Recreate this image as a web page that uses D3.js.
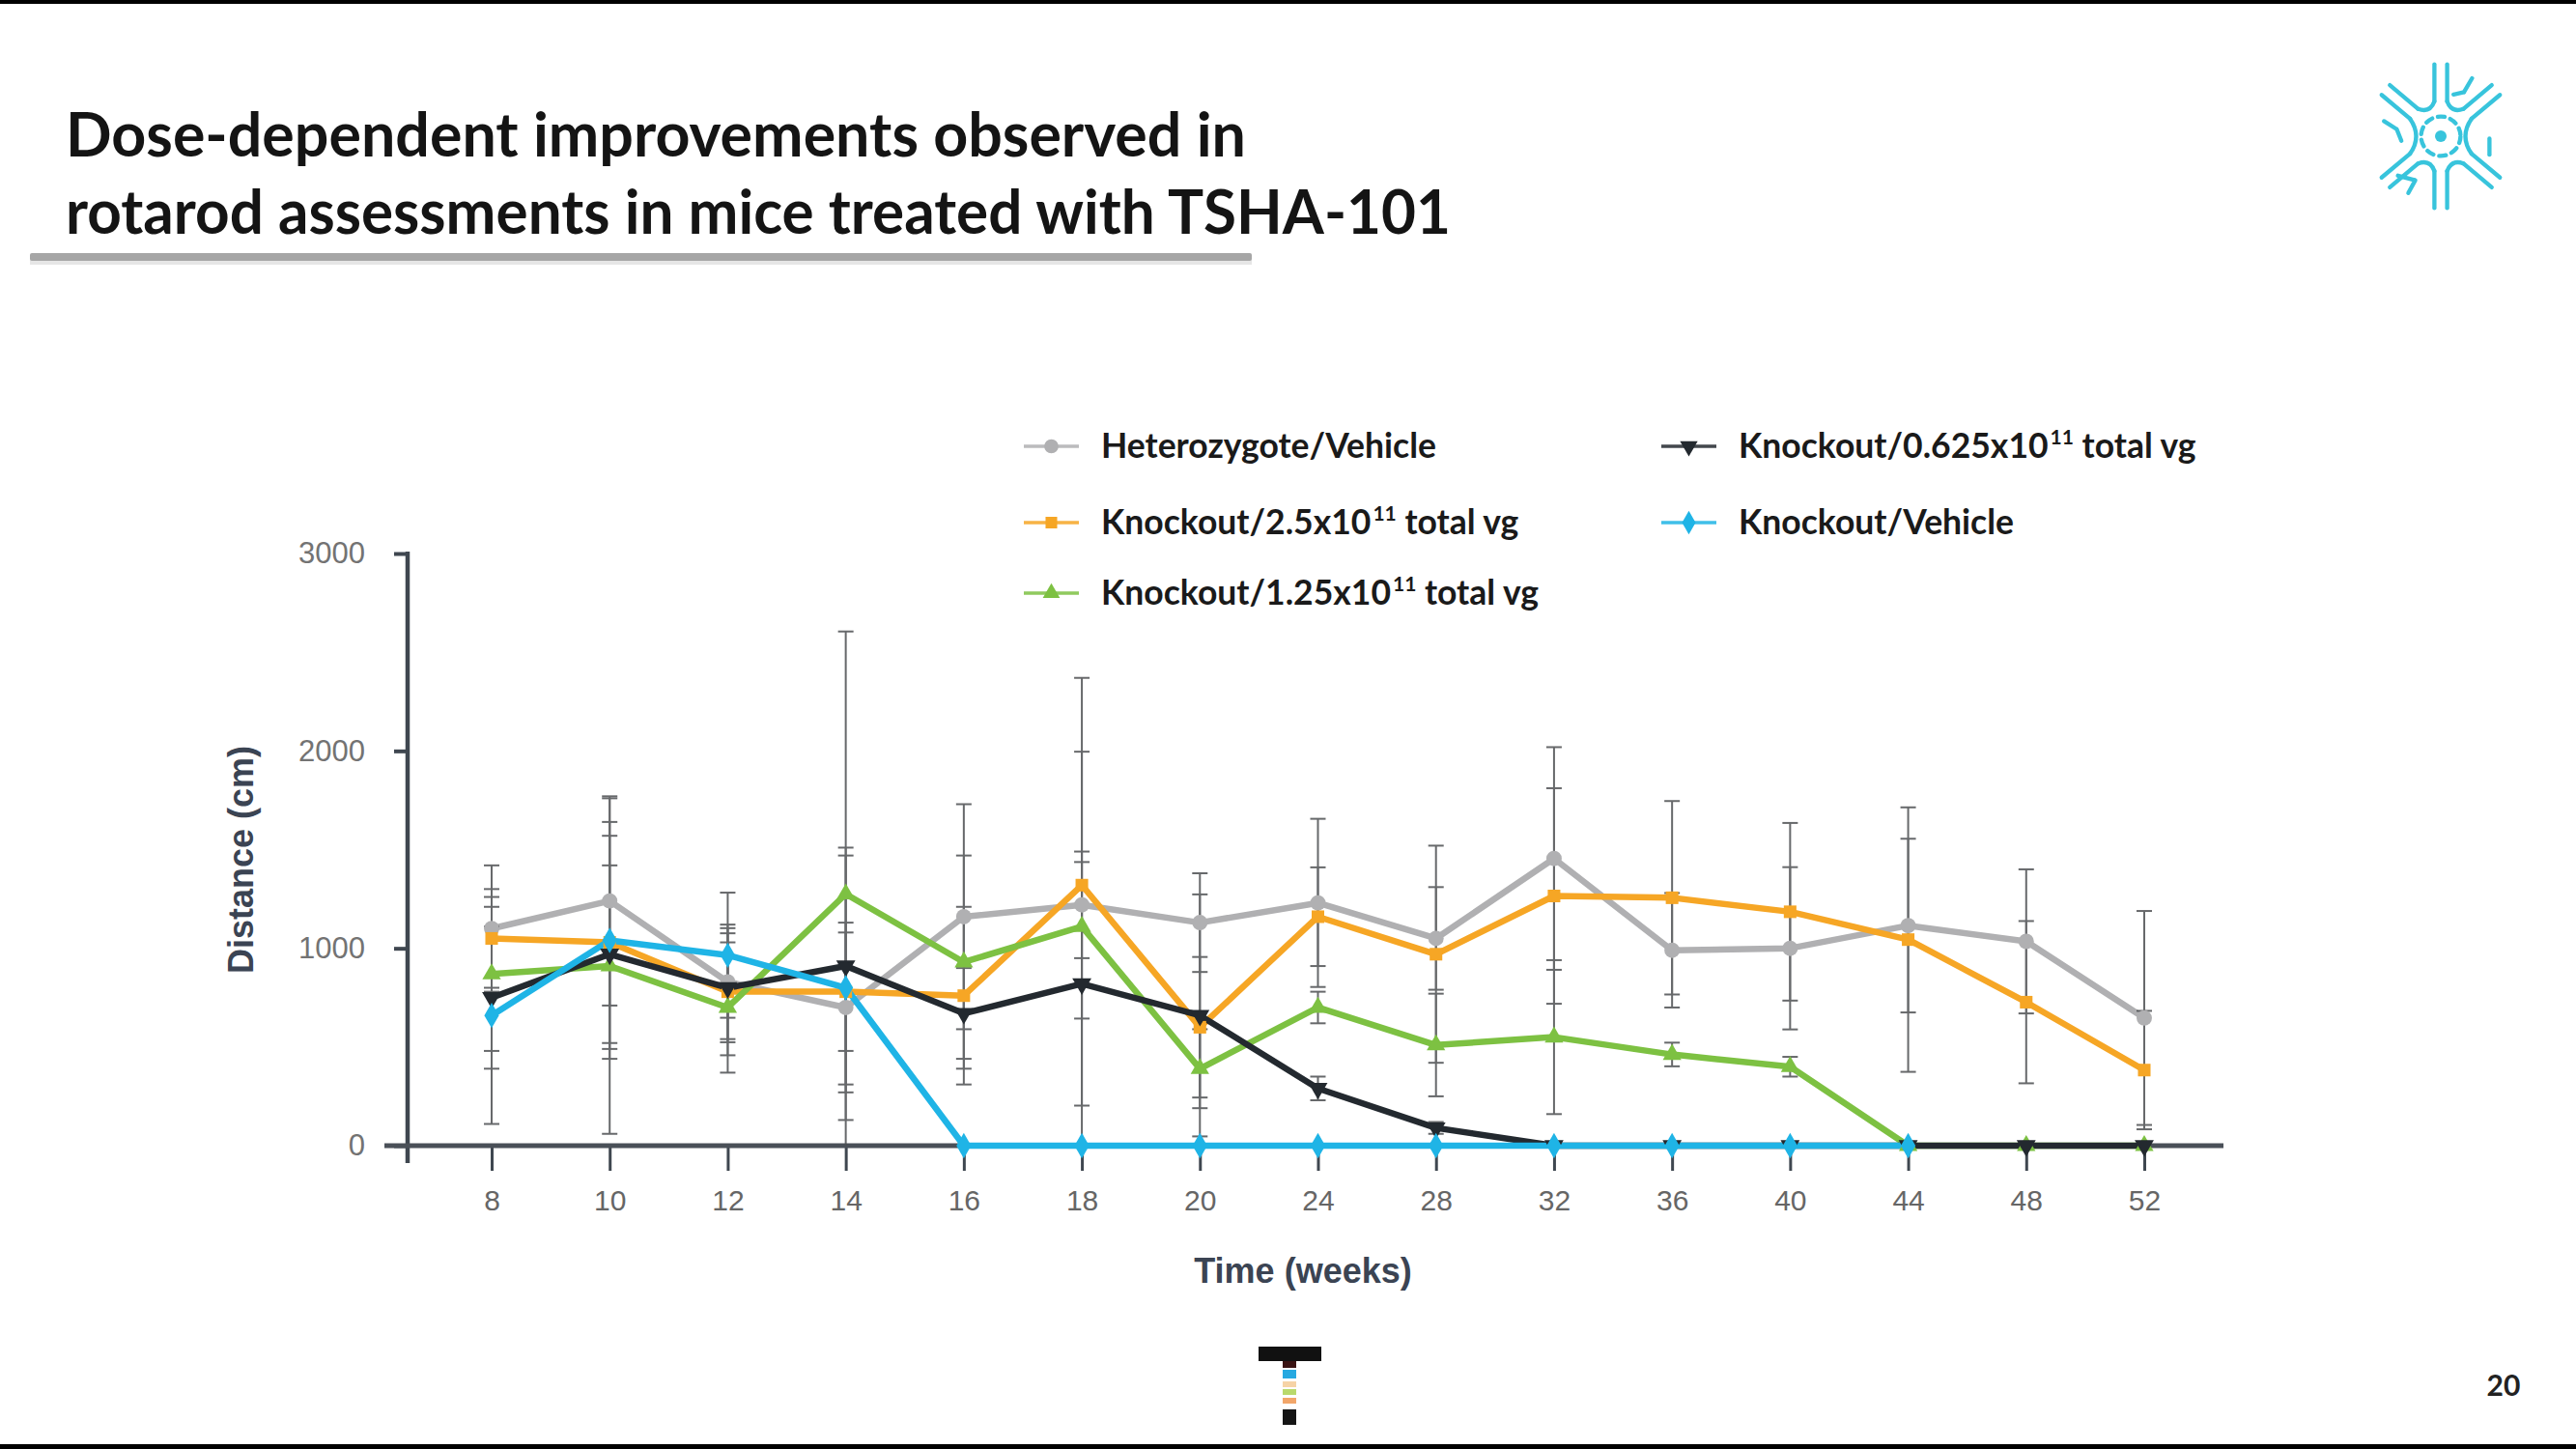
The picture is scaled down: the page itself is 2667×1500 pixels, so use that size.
<!DOCTYPE html>
<html>
<head>
<meta charset="utf-8">
<script src="https://cdn.jsdelivr.net/npm/d3@7"></script>
<style>
  html, body { margin: 0; padding: 0; background: #ffffff; }
  svg { display: block; }
</style>
</head>
<body>
<svg id="chart" width="2667" height="1500"></svg>
<script>
// ---------------- DATA ----------------
const titleLines = [
  "Dose-dependent improvements observed in",
  "rotarod assessments in mice treated with TSHA-101"
];
const weeks = [8, 10, 12, 14, 16, 18, 20, 24, 28, 32, 36, 40, 44, 48, 52];
const yTicks = [0, 1000, 2000, 3000];
const yAxisTitle = "Distance (cm)";
const xAxisTitle = "Time (weeks)";
const pageNumber = "20";

// mean distance (cm) per week
const hetVehicle      = [1100, 1240, 830, 700, 1160, 1220, 1130, 1230, 1050, 1455, 990, 1000, 1115, 1035, 647];
const ko25            = [1050, 1030, 780, 780, 760, 1320, 600, 1160, 970, 1265, 1256, 1185, 1044, 727, 383];
const ko125           = [870, 910, 700, 1275, 930, 1110, 390, 700, 510, 550, 462, 400, 0, 0, 0];
const ko0625          = [750, 970, 800, 910, 670, 820, 660, 290, 90, 0, 0, 0, 0, 0, 0];
const koVehicle       = [660, 1040, 965, 800, 0, 0, 0, 0, 0, 0, 0, 0, 0, null, null];

// error (half-length of error bar) per week
const hetVehicleErr   = [320, 530, 290, 430, 570, 270, 250, 426, 260, 564, 290, 411, 440, 365, 542];
const ko25Err         = [250, 540, 322, 300, 450, 676, 356, 250, 550, 546, 490, 450, 670, 411, 300];
const ko125Err        = [390, 850, 330, 1330, 540, 1260, 200, 80, 260, 390, 60, 50, 0, 0, 0];
const ko0625Err       = [360, 450, 276, 600, 230, 617, 613, 60, 30, 0, 0, 0, 0, 0, 0];
const koVehicleErr    = [550, 600, 317, 670, 0, 0, 0, 0, 0, 0, 0, 0, 0, null, null];

// legend labels: [main, superscript, suffix]
const legendLabels = [
  ["Heterozygote/Vehicle", "", ""],
  ["Knockout/2.5x10", "11", " total vg"],
  ["Knockout/1.25x10", "11", " total vg"],
  ["Knockout/0.625x10", "11", " total vg"],
  ["Knockout/Vehicle", "", ""]
];

// ---------------- STYLE ----------------
const series = [
  { values: hetVehicle, err: hetVehicleErr, color: "#b0b0b2", symbol: d3.symbolCircle,   rot: 0,   size: 200 },
  { values: ko25,       err: ko25Err,       color: "#f6a625", symbol: d3.symbolSquare,   rot: 0,   size: 170 },
  { values: ko125,      err: ko125Err,      color: "#7dc142", symbol: d3.symbolTriangle, rot: 0,   size: 160 },
  { values: ko0625,     err: ko0625Err,     color: "#23292f", symbol: d3.symbolTriangle, rot: 180, size: 170 },
  { values: koVehicle,  err: koVehicleErr,  color: "#1fb4e6", symbol: d3.symbolDiamond,  rot: 0,   size: 200 }
];
const legendOrder = [0, 1, 2, 3, 4];
const legendCols = [1060, 1720];
const legendRows = [462, 541, 614];
const legendPos = [[0, 0], [0, 1], [0, 2], [1, 0], [1, 1]];

const sansFont = "Lato, 'Open Sans', 'Noto Sans', sans-serif";
const axisFont = "'Liberation Sans', Arial, Helvetica, sans-serif";
const axisColor = "#3f4750";

const svg = d3.select("#chart");
svg.append("rect").attr("width", 2667).attr("height", 1500).attr("fill", "#ffffff");
svg.append("rect").attr("x", 0).attr("y", 0).attr("width", 2667).attr("height", 4).attr("fill", "#000");
svg.append("rect").attr("x", 0).attr("y", 1495).attr("width", 2667).attr("height", 5).attr("fill", "#000");

// ---------------- TITLE ----------------
const titleLens = [1222, 1434];
titleLines.forEach((t, i) => {
  svg.append("text")
    .attr("x", 68).attr("y", 162 + i * 80)
    .attr("font-family", sansFont).attr("font-weight", 700)
    .attr("font-size", 64).attr("fill", "#141414")
    .attr("textLength", titleLens[i]).attr("lengthAdjust", "spacingAndGlyphs")
    .text(t);
});
svg.append("rect").attr("x", 31).attr("y", 265).attr("width", 1265).attr("height", 9)
  .attr("fill", "#e6e6e6");
svg.append("rect").attr("x", 31).attr("y", 262).attr("width", 1265).attr("height", 8)
  .attr("fill", "#a6a6a6").attr("rx", 2);

// ---------------- SCALES ----------------
const x = d3.scalePoint().domain(weeks).range([509, 2220]);
const y = d3.scaleLinear().domain([0, 3000]).range([1186, 573]);
const axisX = 422;

// ---------------- AXES ----------------
const yAxisG = svg.append("g").attr("transform", `translate(${axisX},0)`)
  .call(d3.axisLeft(y).tickValues(yTicks).tickSize(14).tickPadding(30).tickFormat(d3.format("d")));
yAxisG.select(".domain").remove();
yAxisG.selectAll(".tick line").attr("stroke", axisColor).attr("stroke-width", 4);
yAxisG.selectAll(".tick text").attr("font-family", axisFont).attr("font-size", 31)
  .attr("fill", "#737373");
svg.append("line").attr("x1", axisX).attr("x2", axisX)
  .attr("y1", y(3000) - 2).attr("y2", y(0) + 18)
  .attr("stroke", axisColor).attr("stroke-width", 4.5);

const xAxisG = svg.append("g").attr("transform", `translate(0,${y(0)})`)
  .call(d3.axisBottom(x).tickSize(26).tickPadding(20));
xAxisG.select(".domain").remove();
xAxisG.selectAll(".tick line").attr("stroke", axisColor).attr("stroke-width", 3);
xAxisG.selectAll(".tick text").attr("font-family", axisFont).attr("font-size", 30)
  .attr("fill", "#666");
svg.append("line").attr("x1", axisX - 24).attr("x2", x(52) + 82)
  .attr("y1", y(0)).attr("y2", y(0))
  .attr("stroke", "#4a5058").attr("stroke-width", 5);

svg.append("text")
  .attr("transform", `translate(262, 890) rotate(-90)`)
  .attr("text-anchor", "middle")
  .attr("font-family", axisFont).attr("font-weight", 700).attr("font-size", 36)
  .attr("fill", "#3b4453").text(yAxisTitle);
svg.append("text")
  .attr("x", 1349).attr("y", 1328).attr("text-anchor", "middle")
  .attr("font-family", axisFont).attr("font-weight", 700).attr("font-size", 36)
  .attr("fill", "#3b4453").text(xAxisTitle);

// ---------------- SERIES ----------------
const plot = svg.append("g");
const lineGen = d3.line()
  .defined(d => d.v !== null)
  .x(d => x(d.w)).y(d => y(d.v));

series.forEach(s => {
  const pts = weeks.map((w, i) => ({ w, v: s.values[i] }));
  plot.append("path").datum(pts)
    .attr("d", lineGen).attr("fill", "none")
    .attr("stroke", s.color).attr("stroke-width", 6.5)
    .attr("stroke-linejoin", "round").attr("stroke-linecap", "round");
});

// error bars
const errG = svg.append("g").attr("stroke", "#4d4f52").attr("stroke-width", 2).attr("fill", "none")
  .attr("opacity", 0.85);
series.forEach(s => {
  weeks.forEach((w, i) => {
    const m = s.values[i], e = s.err[i];
    if (m === null || !e) return;
    const hi = m + e, lo = Math.max(0, m - e);
    const cx = x(w);
    errG.append("line").attr("x1", cx).attr("x2", cx).attr("y1", y(lo)).attr("y2", y(hi));
    errG.append("line").attr("x1", cx - 8).attr("x2", cx + 8).attr("y1", y(hi)).attr("y2", y(hi));
    if (m - e > 0) {
      errG.append("line").attr("x1", cx - 8).attr("x2", cx + 8).attr("y1", y(lo)).attr("y2", y(lo));
    }
  });
});

// markers
series.forEach(s => {
  const sym = d3.symbol().type(s.symbol).size(s.size);
  weeks.forEach((w, i) => {
    const v = s.values[i];
    if (v === null) return;
    svg.append("path").attr("d", sym())
      .attr("transform", `translate(${x(w)},${y(v)}) rotate(${s.rot})`)
      .attr("fill", s.color);
  });
});

// ---------------- LEGEND ----------------
const legend = svg.append("g");
legendOrder.forEach((si, k) => {
  const s = series[si];
  const cx = legendCols[legendPos[k][0]];
  const cy = legendRows[legendPos[k][1]];
  legend.append("line").attr("x1", cx).attr("x2", cx + 57).attr("y1", cy).attr("y2", cy)
    .attr("stroke", s.color).attr("stroke-width", 3.5).attr("opacity", 0.85);
  legend.append("path").attr("d", d3.symbol().type(s.symbol).size(s.size * 0.85)())
    .attr("transform", `translate(${cx + 28.5},${cy}) rotate(${s.rot})`)
    .attr("fill", s.color);
  const lbl = legendLabels[k];
  const t = legend.append("text").attr("x", cx + 80).attr("y", cy + 12)
    .attr("font-family", sansFont).attr("font-weight", 700).attr("font-size", 35.5)
    .attr("fill", "#1a1a1a");
  t.append("tspan").text(lbl[0]);
  if (lbl[1]) {
    t.append("tspan").attr("font-size", 21).attr("dy", -14).attr("dx", 2).text(lbl[1]);
    t.append("tspan").attr("dy", 14).text(lbl[2]);
  }
});

// ---------------- LOGOS ----------------
// neuron icon (top right)
const neuron = svg.append("g").attr("transform", "translate(2527,141) scale(1.2)")
  .attr("stroke", "#38c4dc").attr("stroke-width", 3.6).attr("fill", "none")
  .attr("stroke-linecap", "round");
const arms = [-140, -90, -40, 40, 90, 140];
const armIn = 30, armOut = 62, half = 5.5;
const rad = a => a * Math.PI / 180;
arms.forEach((a, i) => {
  const u = [Math.cos(rad(a)), Math.sin(rad(a))];
  const p = [-u[1], u[0]];
  [-1, 1].forEach(sgn => {
    neuron.append("line")
      .attr("x1", u[0] * armIn + p[0] * half * sgn).attr("y1", u[1] * armIn + p[1] * half * sgn)
      .attr("x2", u[0] * armOut + p[0] * half * sgn).attr("y2", u[1] * armOut + p[1] * half * sgn);
  });
  const b = arms[(i + 1) % arms.length] + (i === arms.length - 1 ? 360 : 0);
  const ub = [Math.cos(rad(b)), Math.sin(rad(b))];
  const pb = [-ub[1], ub[0]];
  const mid = rad((a + b) / 2);
  const k = (b - a) > 60 ? 16 : 22;
  const sx = u[0] * armIn + p[0] * half, sy = u[1] * armIn + p[1] * half;
  const ex = ub[0] * armIn - pb[0] * half, ey = ub[1] * armIn - pb[1] * half;
  neuron.append("path")
    .attr("d", `M${sx},${sy} Q${Math.cos(mid) * k},${Math.sin(mid) * k} ${ex},${ey}`);
});
neuron.append("circle").attr("r", 17).attr("stroke-dasharray", "6 5");
neuron.append("circle").attr("r", 5).attr("fill", "#38c4dc").attr("stroke", "none");
neuron.append("path").attr("d", "M20,-38 L27,-50 M20,-38 L11,-36");
neuron.append("path").attr("d", "M-38,-6 L-49,-13 M-38,-6 L-34,4");
neuron.append("path").attr("d", "M-22,38 L-37,34 M-22,38 L-28,49");
neuron.append("path").attr("d", "M42,2 L42,16");

// T logo (bottom centre)
const tl = svg.append("g");
tl.append("rect").attr("x", 1303).attr("y", 1394).attr("width", 65).attr("height", 15).attr("fill", "#111");
const stem = [["#3a1414", 1409, 7], ["#27a9e1", 1418, 9], ["#f6d3a6", 1430, 6], ["#b9d96c", 1438, 6],
              ["#f2a66a", 1447, 6], ["#151515", 1459, 16]];
stem.forEach(s => tl.append("rect").attr("x", 1328).attr("y", s[1]).attr("width", 14).attr("height", s[2]).attr("fill", s[0]));

svg.append("text").attr("x", 2592).attr("y", 1445).attr("text-anchor", "middle")
  .attr("font-family", sansFont).attr("font-weight", 700).attr("font-size", 30)
  .attr("fill", "#222").text(pageNumber);
</script>
</body>
</html>
